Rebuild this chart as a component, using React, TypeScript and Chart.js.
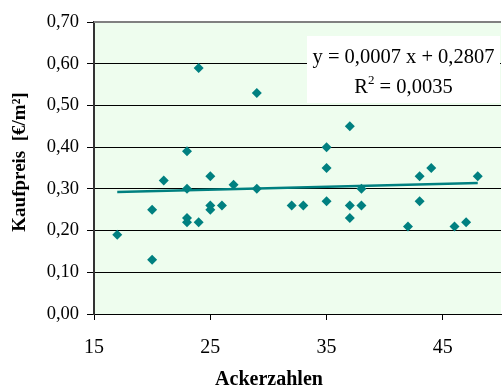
import React, { useEffect, useRef } from "react";
import { Chart, registerables } from "chart.js";

Chart.register(...registerables);

// Ackerzahl (x) and Kaufpreis in €/m² (y)
const ackerzahlen = [
  24, 23, 21, 23, 25, 27, 29, 37, 35, 35, 44, 43, 48, 29, 38,
  17, 20, 20, 23, 23, 24, 25, 25, 26,
  32, 33, 35, 37, 38, 37, 43, 42, 46, 47,
];
const kaufpreise = [
  0.59, 0.39, 0.32, 0.3, 0.33, 0.31, 0.53, 0.45, 0.4, 0.35, 0.35, 0.33, 0.33, 0.3, 0.3,
  0.19, 0.25, 0.13, 0.23, 0.22, 0.22, 0.26, 0.25, 0.26,
  0.26, 0.26, 0.27, 0.26, 0.26, 0.23, 0.27, 0.21, 0.21, 0.22,
];
const trendSlope = 0.0007;
const trendIntercept = 0.2807;
const equationLine1 = "y = 0,0007 x + 0,2807";
const equationLine2 = ["R", "2", " = 0,0035"];
const xTicks = [15, 25, 35, 45];
const xMin = 15;
const xMax = 50;
const yMin = 0;
const yMax = 0.7;
const yStep = 0.1;
const xTitle = "Ackerzahlen";
const yTitle = "Kaufpreis  [€/m²]";

const TEAL = "#008080";
const FONT = "'Liberation Serif', 'Times New Roman', serif";

export default function App() {
  const ref = useRef<HTMLCanvasElement>(null);

  useEffect(() => {
    document.body.style.margin = "0";
    document.body.style.overflow = "hidden";
    const canvas = ref.current!;
    const points = ackerzahlen.map((x, i) => ({ x, y: kaufpreise[i] }));
    const lo = Math.min(...ackerzahlen);
    const hi = Math.max(...ackerzahlen);
    const trend = [
      { x: lo, y: trendSlope * lo + trendIntercept },
      { x: hi, y: trendSlope * hi + trendIntercept },
    ];

    const bgPlugin = {
      id: "bg",
      beforeDraw(chart: any) {
        const { ctx, chartArea: a } = chart;
        ctx.save();
        ctx.fillStyle = "#EEFDEE";
        ctx.fillRect(a.left, a.top, a.right - a.left, a.bottom - a.top);
        ctx.restore();
      },
      afterDraw(chart: any) {
        const { ctx, chartArea: a } = chart;
        ctx.save();
        // top border
        ctx.strokeStyle = "#808080";
        ctx.lineWidth = 2;
        ctx.beginPath();
        ctx.moveTo(a.left, a.top);
        ctx.lineTo(a.right, a.top);
        ctx.stroke();
        // equation box
        const bx = 307, by = 36, bw = 193, bh = 67;
        ctx.fillStyle = "#ffffff";
        ctx.fillRect(bx, by, bw, bh);
        ctx.fillStyle = "#000";
        ctx.textBaseline = "alphabetic";
        ctx.font = `20.5px ${FONT}`;
        ctx.textAlign = "center";
        ctx.fillText(equationLine1, bx + bw / 2, 63);
        // second line with superscript
        ctx.textAlign = "left";
        const w1 = ctx.measureText(equationLine2[0]).width;
        const w3 = ctx.measureText(equationLine2[2]).width;
        ctx.font = `13px ${FONT}`;
        const w2 = ctx.measureText(equationLine2[1]).width;
        const total = w1 + w2 + w3;
        let x = bx + bw / 2 - total / 2;
        ctx.font = `20.5px ${FONT}`;
        ctx.fillText(equationLine2[0], x, 93);
        x += w1;
        ctx.font = `13px ${FONT}`;
        ctx.fillText(equationLine2[1], x, 84);
        x += w2;
        ctx.font = `20.5px ${FONT}`;
        ctx.fillText(equationLine2[2], x, 93);
        // axis titles
        ctx.font = `bold 20px ${FONT}`;
        ctx.textAlign = "center";
        ctx.textBaseline = "alphabetic";
        ctx.fillText(xTitle, 269, 385);
        ctx.textBaseline = "middle";
        ctx.translate(20, 162);
        ctx.rotate(-Math.PI / 2);
        ctx.font = `bold 19px ${FONT}`;
        ctx.fillText(yTitle, 0, 0);
        ctx.restore();
      },
    };

    const chart = new Chart(canvas, {
      type: "scatter",
      data: {
        datasets: [
          {
            type: "line",
            data: trend,
            borderColor: TEAL,
            borderWidth: 2.5,
            pointRadius: 0,
            fill: false,
            order: 2,
          },
          {
            data: points,
            backgroundColor: TEAL,
            borderColor: TEAL,
            borderWidth: 0,
            pointStyle: "rectRot",
            pointRadius: 5,
            order: 1,
          },
        ],
      },
      options: {
        animation: false,
        responsive: false,
        layout: { padding: { top: 22, left: 0, right: 0, bottom: 0 } },
        plugins: { legend: { display: false }, tooltip: { enabled: false } },
        scales: {
          x: {
            type: "linear",
            min: xMin,
            max: xMax,
            afterBuildTicks: (s: any) => {
              s.ticks = xTicks.map((v) => ({ value: v }));
            },
            afterFit: (s: any) => {
              s.height = 73;
            },
            grid: {
              drawOnChartArea: false,
              color: "#000",
              tickLength: 6,
              tickColor: "#000",
            },
            border: { display: true, color: "#000", width: 1 },
            ticks: {
              color: "#000",
              font: { family: FONT, size: 20 },
              padding: 16,
              maxRotation: 0,
            },
            title: { display: false },
          },
          y: {
            min: yMin,
            max: yMax,
            afterFit: (s: any) => {
              s.width = 94;
            },
            grid: {
              color: "#000",
              lineWidth: 1,
              tickLength: 7,
              tickColor: "#000",
            },
            border: { display: true, color: "#333", width: 2 },
            ticks: {
              stepSize: yStep,
              color: "#000",
              font: { family: FONT, size: 18.5 },
              padding: 8,
              callback: (v: any) => Number(v).toFixed(2).replace(".", ","),
            },
            title: { display: false },
          },
        },
      },
      plugins: [bgPlugin],
    } as any);
    return () => chart.destroy();
  }, []);

  return (
    <div style={{ position: "absolute", left: 0, top: 0, width: 503, height: 387, overflow: "hidden" }}>
      <canvas ref={ref} width={506} height={387} style={{ display: "block" }} />
    </div>
  );
}
